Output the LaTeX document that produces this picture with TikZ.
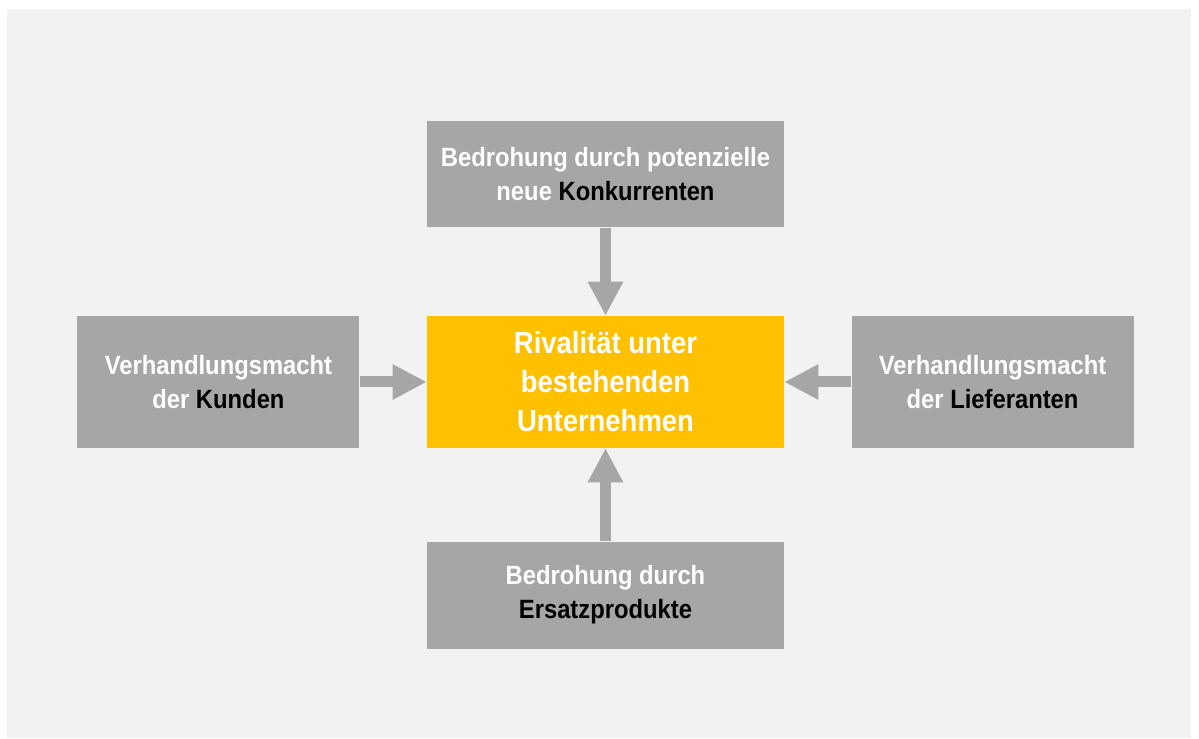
\documentclass[tikz,border=0pt]{standalone}
\usepackage{fontspec}
\setmainfont{Liberation Sans}[FakeStretch=0.9]
\usepackage{xcolor}
\usepackage{tikz}
\usetikzlibrary{positioning, arrows.meta}
\definecolor{bgPanel}{HTML}{f2f2f2}
\definecolor{forceBox}{HTML}{a6a6a6}
\definecolor{rivalBox}{HTML}{ffc000}
\newcommand{\hl}[1]{\textcolor{black}{#1}}

\begin{document}
\begin{tikzpicture}[force/.style={fill=forceBox, text=white, align=center, inner sep=0pt, font=\bfseries\fontsize{18.8}{24.2}\selectfont},pushArrow/.style={-{Triangle[length=0.85cm, width=0.825cm]}, line width=0.275cm, color=forceBox}]
\useasboundingbox (-15.1375,-8.9) rectangle (14.8375,9.55);
\fill[bgPanel] (-14.9625,-8.9) rectangle (14.6375,9.325);
\node[fill=rivalBox, text=white, align=center, minimum width=8.925cm, minimum height=3.3cm, font=\bfseries\fontsize{21.7}{27.7}\selectfont] (rival) at (0,0) {Rivalität unter\\bestehenden\\Unternehmen};
\node[force, minimum width=8.925cm, minimum height=2.65cm, above=2.2cm of rival] (entrants) {Bedrohung durch potenzielle\\neue \hl{Konkurrenten}};
\node[force, minimum width=8.925cm, minimum height=2.675cm, below=2.325cm of rival] (substitutes) {Bedrohung durch\\\hl{Ersatzprodukte}};
\node[force, minimum width=7.05cm, minimum height=3.3cm, left=1.675cm of rival] (buyers) {Verhandlungsmacht\\der \hl{Kunden}};
\node[force, minimum width=7.05cm, minimum height=3.3cm, right=1.675cm of rival] (suppliers) {Verhandlungsmacht\\der \hl{Lieferanten}};
\draw[pushArrow] (entrants.south)--(rival.north); \draw[pushArrow] (substitutes.north)--(rival.south);
\draw[pushArrow] (buyers.east)--(rival.west); \draw[pushArrow] (suppliers.west)--(rival.east);
\end{tikzpicture}
\end{document}
